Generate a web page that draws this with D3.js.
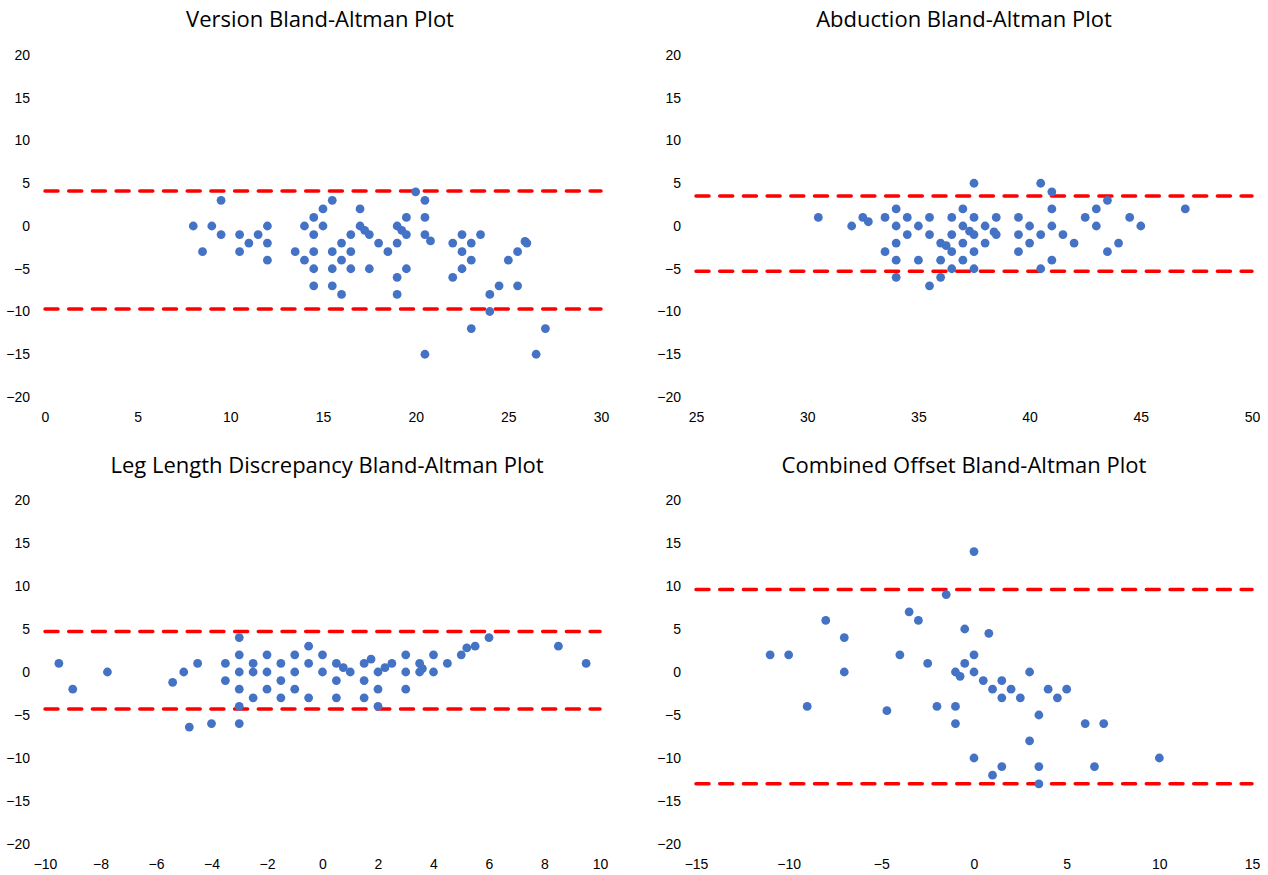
<!DOCTYPE html>
<html>
<head>
<meta charset="utf-8">
<script src="https://cdn.jsdelivr.net/npm/d3@7"></script>
<style>
  body { margin: 0; background: #fff; }
  svg { display: block; font-family: "Open Sans", "Noto Sans", sans-serif; }
  .tick text { fill: #000; font-size: 14px; }
  .chart-title { fill: #000; font-size: 22px; }
  .data-point { fill: #4472C4; }
  .limit-line { stroke: #FF0000; stroke-width: 3.5; stroke-dasharray: 13 10.7; stroke-linecap: round; fill: none; }
</style>
</head>
<body>
<div id="charts"></div>
<script>
// y axis is shared by all four plots
var diffTicks = [-20, -15, -10, -5, 0, 5, 10, 15, 20];

// Version: [mean, difference]
var versionTicks = [0, 5, 10, 15, 20, 25, 30];
var versionLimits = [4.1, -9.7];
var versionPoints = [
  [8,0],[8.5,-3],[9,0],[9.5,3],[9.5,-1],[10.5,-1],[10.5,-3],[11,-2],[11.5,-1],[12,0],
  [12,-2],[12,-4],[13.5,-3],[14,0],[14,-4],[14.5,1],[14.5,-1],[14.5,-3],[14.5,-5],[14.5,-7],
  [15,2],[15,0],[15.5,3],[15.5,-3],[15.5,-5],[15.5,-7],[16,-2],[16,-4],[16,-8],[16.5,-1],
  [16.5,-3],[16.5,-5],[17,2],[17,0],[17.25,-0.5],[17.5,-1],[17.5,-5],[18,-2],[18.5,-3],[19,0],
  [19,-2],[19,-6],[19,-8],[19.25,-0.5],[19.5,1],[19.5,-1],[19.5,-5],[20,4],[20.5,3],[20.5,1],
  [20.5,-1],[20.5,-15],[20.8,-1.75],[22,-2],[22,-6],[22.5,-1],[22.5,-3],[22.5,-5],[23,-2],[23,-4],
  [23,-12],[23.5,-1],[24,-8],[24,-10],[24.5,-7],[25,-4],[25.5,-3],[25.5,-7],[25.9,-1.8],[26,-2],
  [26.5,-15],[27,-12]
];

// Abduction
var abductionTicks = [25, 30, 35, 40, 45, 50];
var abductionLimits = [3.5, -5.3];
var abductionPoints = [
  [30.5,1],[32,0],[32.5,1],[32.75,0.5],[33.5,1],[33.5,-3],[34,2],[34,0],[34,-2],[34,-4],
  [34,-6],[34.5,1],[34.5,-1],[35,0],[35,-4],[35.5,1],[35.5,-1],[35.5,-7],[36,-2],[36,-4],
  [36,-6],[36.25,-2.3],[36.5,1],[36.5,-1],[36.5,-3],[36.5,-5],[37,2],[37,0],[37,-2],[37,-4],
  [37.3,-0.6],[37.5,5],[37.5,1],[37.5,-1],[37.5,-3],[37.5,-5],[38,0],[38,-2],[38.4,-0.7],[38.5,1],
  [38.5,-1],[39.5,1],[39.5,-1],[39.5,-3],[40,0],[40,-2],[40.5,5],[40.5,-1],[40.5,-5],[41,4],
  [41,2],[41,0],[41,-4],[41.5,-1],[42,-2],[42.5,1],[43,2],[43,0],[43.5,3],[43.5,-3],
  [44,-2],[44.5,1],[45,0],[47,2]
];

// Leg length discrepancy
var lldTicks = [-10, -8, -6, -4, -2, 0, 2, 4, 6, 8, 10];
var lldLimits = [4.7, -4.3];
var lldPoints = [
  [-9.5,1],[-9,-2],[-7.75,0],[-5.4,-1.2],[-5,0],[-4.8,-6.4],[-4.5,1],[-4,-6],[-3.5,1],[-3.5,-1],
  [-3,4],[-3,2],[-3,0],[-3,-2],[-3,-4],[-3,-6],[-2.5,1],[-2.5,0],[-2.5,-3],[-2,2],
  [-2,0],[-2,-2],[-1.5,1],[-1.5,-1],[-1.5,-3],[-1,2],[-1,0],[-1,-2],[-0.5,3],[-0.5,1],
  [-0.5,-3],[0,2],[0,0],[0.5,1],[0.5,-1],[0.5,-3],[0.75,0.5],[1,0],[1.5,1],[1.5,-1],
  [1.5,-3],[1.75,1.5],[2,0],[2,-2],[2,-4],[2.25,0.5],[2.5,1],[3,2],[3,0],[3,-2],
  [3.5,1],[3.5,0],[3.6,0.4],[4,2],[4,0],[4.5,1],[5,2],[5.2,2.8],[5.5,3],[6,4],
  [8.5,3],[9.5,1]
];

// Combined offset
var offsetTicks = [-15, -10, -5, 0, 5, 10, 15];
var offsetLimits = [9.6, -13.0];
var offsetPoints = [
  [-11,2],[-10,2],[-9,-4],[-8,6],[-7,4],[-7,0],[-4.7,-4.5],[-4,2],[-3.5,7],[-3,6],
  [-2.5,1],[-2,-4],[-1.5,9],[-1,0],[-1,-4],[-1,-6],[-0.75,-0.5],[-0.5,5],[-0.5,1],[0,14],
  [0,2],[0,0],[0,-10],[0.5,-1],[0.8,4.5],[1,-2],[1,-12],[1.5,-1],[1.5,-3],[1.5,-11],
  [2,-2],[2.5,-3],[3,0],[3,-8],[3.5,-5],[3.5,-11],[3.5,-13],[4,-2],[4.5,-3],[5,-2],
  [6,-6],[6.5,-11],[7,-6],[10,-10]
];

var svg = d3.select("#charts").append("svg")
  .attr("width", 1268)
  .attr("height", 875);

function bland_altman(title, points, limits, xTicks, box){
  // box: plot area in page pixels plus title position
  var g = svg.append("g");

  var x_scale = d3.scaleLinear()
    .domain([xTicks[0], xTicks[xTicks.length - 1]])
    .range([box.left, box.right]);
  var y_scale = d3.scaleLinear()
    .domain([-20, 20])
    .range([box.bottom, box.top]);

  // axes, no lines - just labels like the excel original
  g.append("g")
    .attr("transform", "translate(0," + box.bottom + ")")
    .call(d3.axisBottom(x_scale).tickValues(xTicks).tickSize(0).tickPadding(15))
    .call(function(a){ a.select(".domain").remove(); });
  g.append("g")
    .attr("transform", "translate(" + box.left + ",0)")
    .call(d3.axisLeft(y_scale).tickValues(diffTicks).tickSize(0).tickPadding(15))
    .call(function(a){ a.select(".domain").remove(); });
  g.selectAll(".tick text").attr("font-family", null).attr("font-size", null);

  // limits of agreement
  g.selectAll(".limit-line")
    .data(limits)
    .enter()
    .append("line")
      .attr("class", "limit-line")
      .attr("x1", box.left)
      .attr("x2", box.right)
      .attr("y1", function(d){ return y_scale(d); })
      .attr("y2", function(d){ return y_scale(d); });

  // dots
  g.append("g")
    .selectAll("circle")
    .data(points)
    .enter()
    .append("circle")
      .attr("class", "data-point")
      .attr("cx", function(d){ return x_scale(d[0]); })
      .attr("cy", function(d){ return y_scale(d[1]); })
      .attr("r", 4.4);

  g.append("text")
    .attr("class", "chart-title")
    .attr("text-anchor", "middle")
    .attr("x", box.titleX)
    .attr("y", box.titleY)
    .text(title);
}

bland_altman("Version Bland-Altman Plot", versionPoints, versionLimits, versionTicks,
  {left: 45, right: 601, top: 55, bottom: 397, titleX: 320, titleY: 27});
bland_altman("Abduction Bland-Altman Plot", abductionPoints, abductionLimits, abductionTicks,
  {left: 696, right: 1252, top: 55, bottom: 397, titleX: 964, titleY: 27});
bland_altman("Leg Length Discrepancy Bland-Altman Plot", lldPoints, lldLimits, lldTicks,
  {left: 45, right: 600, top: 500, bottom: 844, titleX: 327, titleY: 473});
bland_altman("Combined Offset Bland-Altman Plot", offsetPoints, offsetLimits, offsetTicks,
  {left: 696, right: 1252, top: 500, bottom: 844, titleX: 964, titleY: 473});
</script>
</body>
</html>
